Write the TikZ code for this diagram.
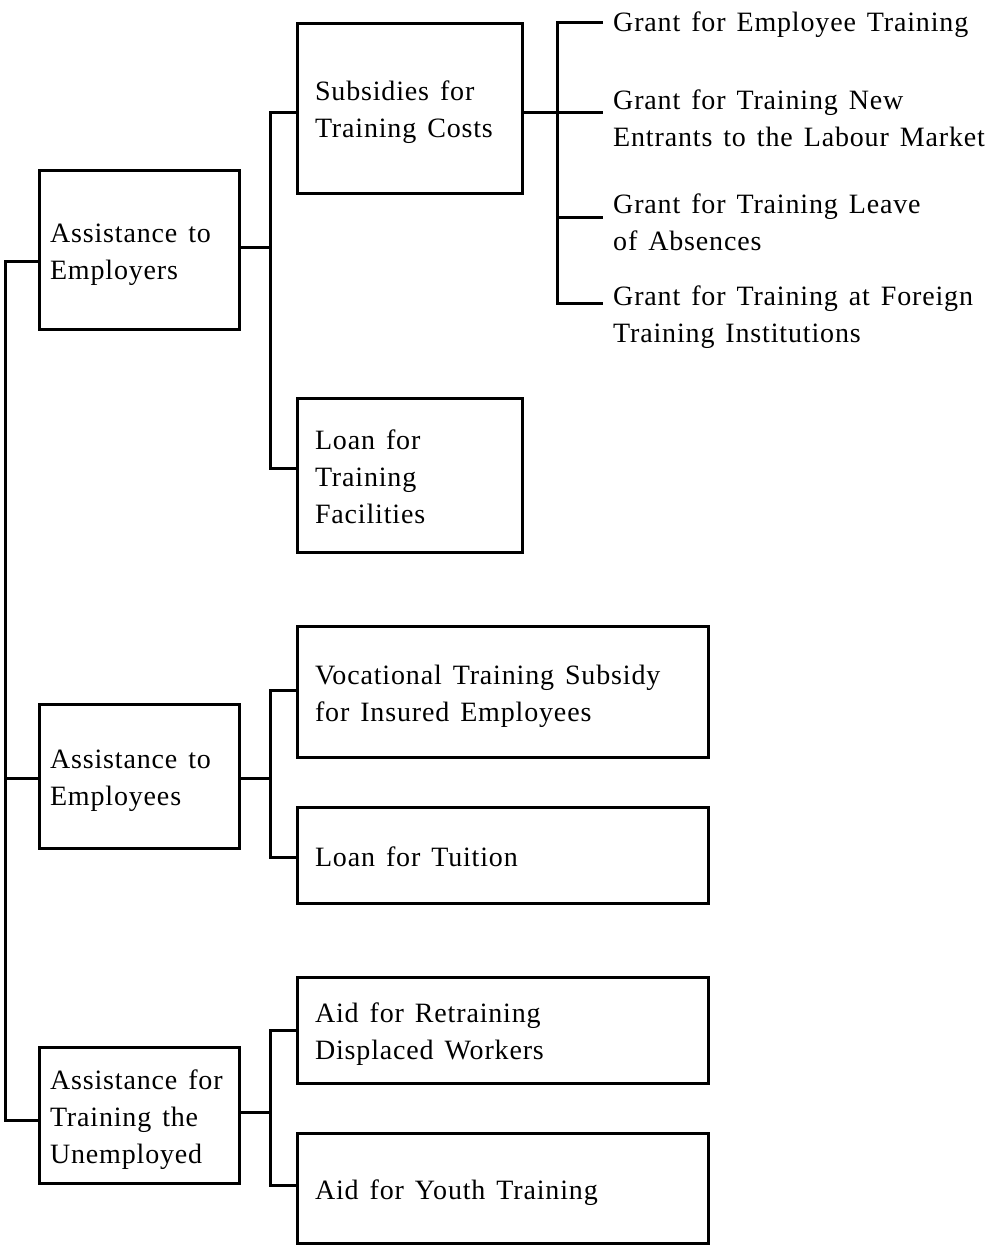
\documentclass[tikz,border=0pt]{standalone}
\usepackage{fontspec}
\setmainfont{Liberation Serif}[LetterSpace=3,WordSpace=1.4]
% left-aligned block of lines, padded to a fixed width and set slightly low
\newcommand{\inbox}[2]{\makebox[#1pt][l]{\raisebox{-4pt}[\height][\depth]{\begin{tabular}[c]{@{}l@{}}#2\end{tabular}}}}
% block of lines whose baseline is that of its first line
\newcommand{\toplines}[1]{\begin{tabular}[t]{@{}l@{}}#1\end{tabular}}
\begin{document}
\begin{tikzpicture}[x=1pt,y=-1pt,
  every node/.style={font=\fontsize{28}{37}\selectfont},
  conn/.style={line width=3pt},
  leftbox/.style={draw,line width=3pt,inner xsep=11pt,inner ysep=0pt,minimum width=200pt},
  rightbox/.style={draw,line width=3pt,inner xsep=18pt,inner ysep=0pt},
  grant/.style={anchor=base west,inner xsep=10pt,inner ysep=0pt}]
\useasboundingbox (0,0) rectangle (988,1248);

% first level
\node[leftbox,minimum height=159pt] (emp) at (139,249.5) {\inbox{178}{Assistance to\\Employers}};
\node[leftbox,minimum height=144pt] (empl) at (139,776) {\inbox{178}{Assistance to\\Employees}};
\node[leftbox,minimum height=136pt] (unemp) at (139,1115) {\inbox{178}{Assistance for\\Training the\\Unemployed}};

% second level
\node[rightbox,minimum width=225pt,minimum height=170pt] (subs) at (409.5,108) {\inbox{189}{Subsidies for\\Training Costs}};
\node[rightbox,minimum width=225pt,minimum height=154pt] (loan) at (409.5,475) {\inbox{189}{Loan for\\Training\\Facilities}};
\node[rightbox,minimum width=411pt,minimum height=131pt] (voc) at (502.5,691.5) {\inbox{375}{Vocational Training Subsidy\\for Insured Employees}};
\node[rightbox,minimum width=411pt,minimum height=96pt] (tuit) at (502.5,855) {\inbox{375}{Loan for Tuition}};
\node[rightbox,minimum width=411pt,minimum height=106pt] (retr) at (502.5,1030) {\inbox{375}{Aid for Retraining\\Displaced Workers}};
\node[rightbox,minimum width=411pt,minimum height=110pt] (youth) at (502.5,1188) {\inbox{375}{Aid for Youth Training}};

% third level
\node[grant] (g1) at (603,31) {\toplines{Grant for Employee Training}};
\node[grant] (g2) at (603,109) {\toplines{Grant for Training New\\Entrants to the Labour Market}};
\node[grant] (g3) at (603,213) {\toplines{Grant for Training Leave\\of Absences}};
\node[grant] (g4) at (603,305) {\toplines{Grant for Training at Foreign\\Training Institutions}};

% root bus
\coordinate (r1) at (5,261);
\coordinate (r2) at (5,778);
\coordinate (r3) at (5,1120);
\draw[conn] (emp.west |- r1) -- (r1) -- (r3) -- (unemp.west |- r3);
\draw[conn] (empl.west |- r2) -- (r2);

% employers bus
\coordinate (a0) at (270,247);
\coordinate (a1) at (270,112);
\coordinate (a2) at (270,468);
\draw[conn] (emp.east |- a0) -- (a0);
\draw[conn] (subs.west |- a1) -- (a1) -- (a2) -- (loan.west |- a2);

% grants bus
\coordinate (s0) at (557,112);
\coordinate (s1) at (557,22);
\coordinate (s2) at (557,112);
\coordinate (s3) at (557,217);
\coordinate (s4) at (557,303);
\draw[conn] (subs.east |- s0) -- (s0);
\draw[conn] (g1.west |- s1) -- (s1) -- (s4) -- (g4.west |- s4);
\draw[conn] (s2) -- (g2.west |- s2);
\draw[conn] (s3) -- (g3.west |- s3);

% employees bus
\coordinate (e0) at (270,778);
\coordinate (e1) at (270,690);
\coordinate (e2) at (270,857);
\draw[conn] (empl.east |- e0) -- (e0);
\draw[conn] (voc.west |- e1) -- (e1) -- (e2) -- (tuit.west |- e2);

% unemployed bus
\coordinate (u0) at (270,1112);
\coordinate (u1) at (270,1030);
\coordinate (u2) at (270,1185);
\draw[conn] (unemp.east |- u0) -- (u0);
\draw[conn] (retr.west |- u1) -- (u1) -- (u2) -- (youth.west |- u2);
\end{tikzpicture}
\end{document}
